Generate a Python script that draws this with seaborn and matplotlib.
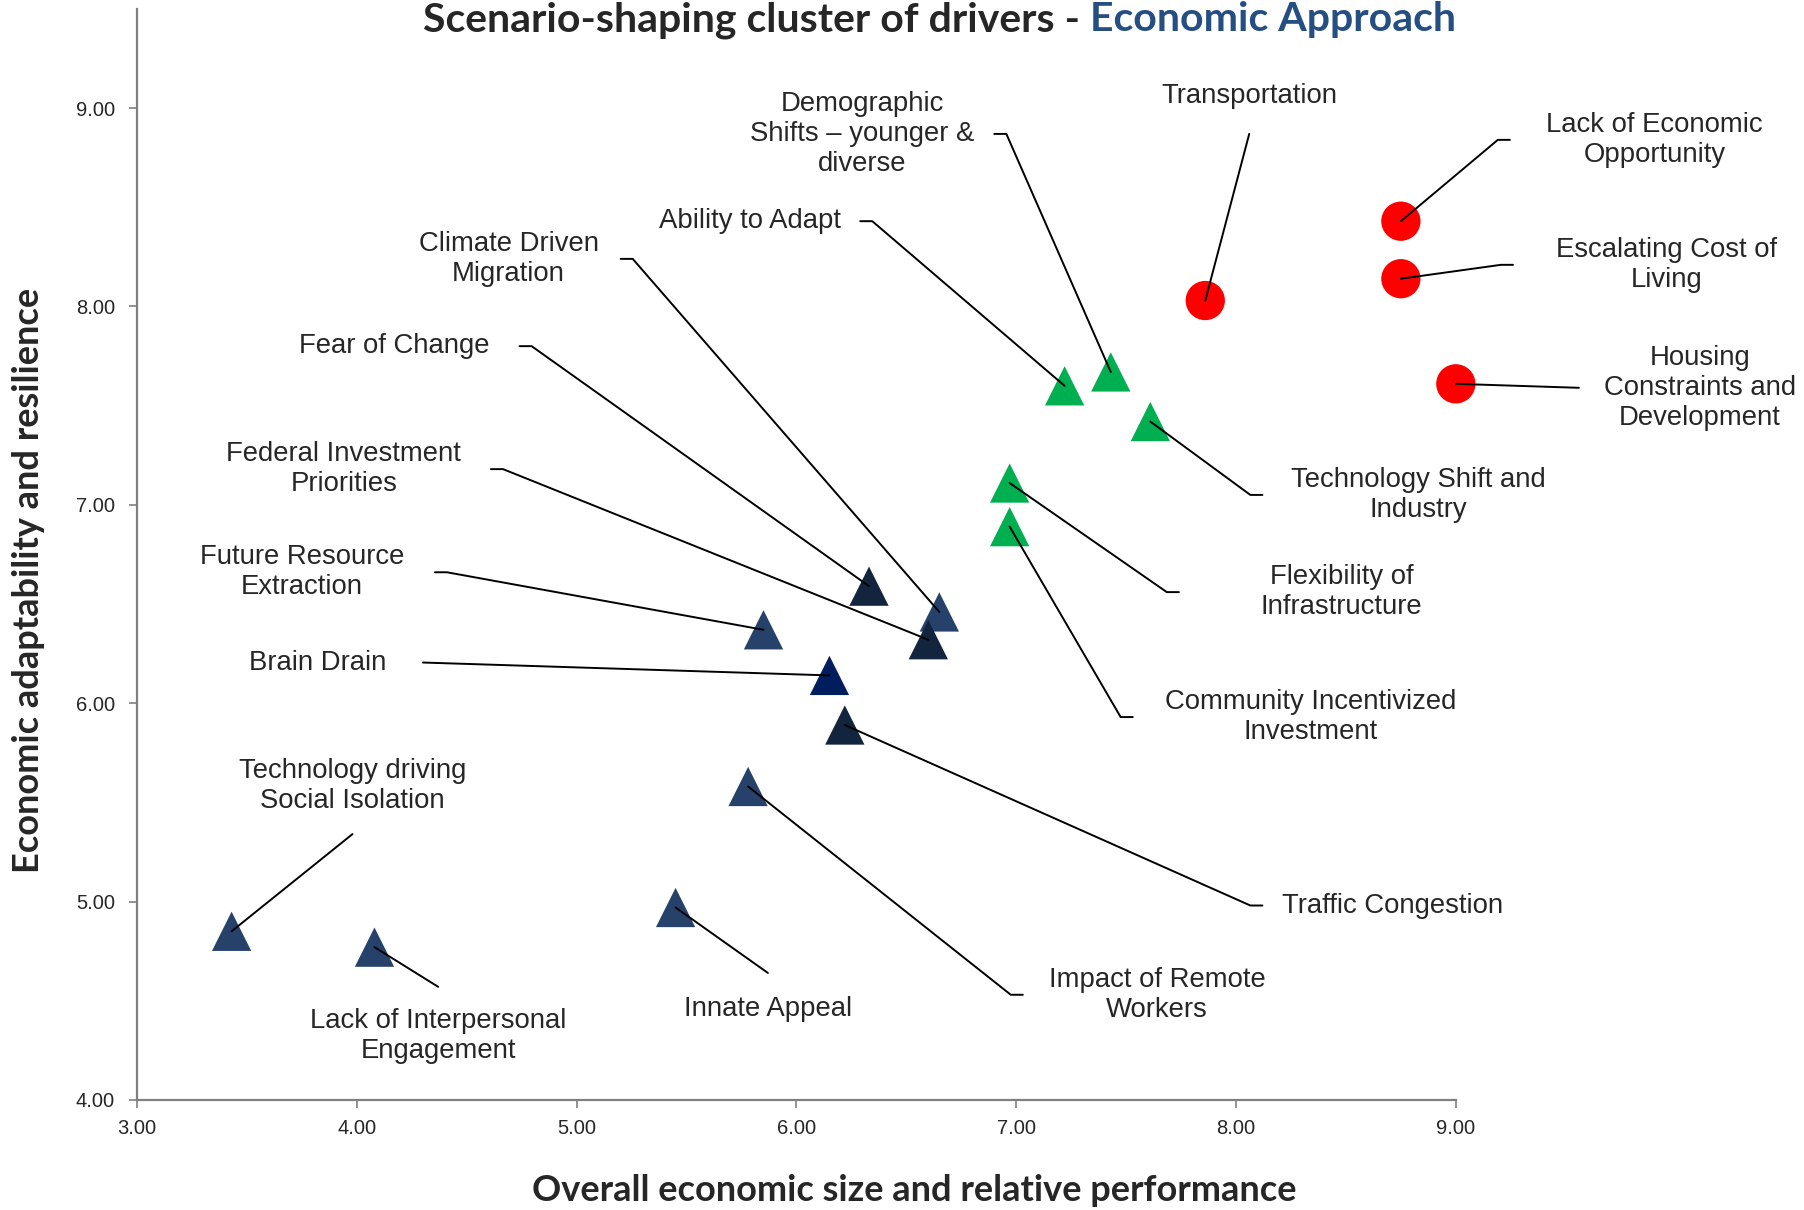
import matplotlib
matplotlib.use("Agg")
import matplotlib.pyplot as plt
import seaborn as sns
import pandas as pd

# ---- data ----
drivers = ["Lack of Economic\nOpportunity", "Escalating Cost of\nLiving", "Transportation",
           "Housing\nConstraints and\nDevelopment", "Ability to Adapt",
           "Demographic\nShifts – younger &\ndiverse", "Technology Shift and\nIndustry",
           "Flexibility of\nInfrastructure", "Community Incentivized\nInvestment",
           "Fear of Change", "Climate Driven\nMigration", "Federal Investment\nPriorities",
           "Future Resource\nExtraction", "Brain Drain", "Traffic Congestion",
           "Impact of Remote\nWorkers", "Innate Appeal", "Lack of Interpersonal\nEngagement",
           "Technology driving\nSocial Isolation"]
size_perf = [8.75, 8.75, 7.86, 9.00, 7.22, 7.43, 7.61, 6.97, 6.97,
             6.33, 6.65, 6.60, 5.85, 6.15, 6.22, 5.78, 5.45, 4.08, 3.43]
adapt_res = [8.43, 8.14, 8.03, 7.61, 7.60, 7.67, 7.42, 7.11, 6.89,
             6.59, 6.46, 6.32, 6.37, 6.14, 5.89, 5.58, 4.97, 4.77, 4.85]
group = ["red"] * 4 + ["green"] * 5 + ["dark", "navy", "dark", "navy", "brain",
                                       "dark", "navy", "navy", "navy", "navy"]
shape = ["circle"] * 4 + ["triangle"] * 15

# label placement (text centre, start of leader line, short horizontal stub or not)
label_pos = [(9.905, 8.84), (9.96, 8.21), (8.06, 9.06), (10.11, 7.59), (5.79, 8.43),
             (6.30, 8.87), (8.83, 7.05), (8.48, 6.56), (8.34, 5.93), (4.17, 7.80),
             (4.69, 8.24), (3.94, 7.18), (3.75, 6.66), (3.82, 6.205), (8.71, 4.98),
             (7.64, 4.53), (5.87, 4.46), (4.37, 4.32), (3.98, 5.585)]
line_start = [(9.246, 8.84), (9.26, 8.21), (8.06, 8.87), (9.56, 7.59), (6.29, 8.43),
              (6.90, 8.87), (8.12, 7.05), (7.74, 6.56), (7.53, 5.93), (4.74, 7.80),
              (5.20, 8.24), (4.61, 7.18), (4.355, 6.66), (4.30, 6.205), (8.12, 4.98),
              (7.03, 4.53), (5.87, 4.64), (4.37, 4.57), (3.98, 5.34)]
stub = [True, True, False, False, True, True, True, True, True, True,
        True, True, True, False, True, True, False, False, False]

df = pd.DataFrame({"driver": drivers, "x": size_perf, "y": adapt_res,
                   "group": group, "shape": shape})

palette = {"red": "#FF0000", "green": "#00B050", "navy": "#26426A",
           "dark": "#13243F", "brain": "#021D5E"}
markers = {"circle": "o", "triangle": "^"}

sns.set_style("white")
plt.rcParams["font.family"] = ["Liberation Sans", "DejaVu Sans"]

fig = plt.figure(figsize=(18.04, 12.10), dpi=100)
ax = fig.add_axes([0.076, 0.091, 0.731, 0.9016])

sns.scatterplot(data=df, x="x", y="y", hue="group", style="shape", palette=palette,
                markers=markers, s=800, linewidth=0, legend=False, ax=ax, zorder=3,
                clip_on=False)

# leader lines + labels
for i, name in enumerate(drivers):
    sx, sy = line_start[i]
    px, py = size_perf[i], adapt_res[i]
    xs, ys = [sx], [sy]
    if stub[i]:
        d = 0.055 if px > sx else -0.055
        xs.append(sx + d)
        ys.append(sy)
    xs.append(px)
    ys.append(py)
    ax.plot(xs, ys, color="black", lw=1.4, zorder=4, clip_on=False)
    ax.text(label_pos[i][0], label_pos[i][1], name, ha="center", va="center",
            fontsize=19.8, linespacing=1.2, clip_on=False)

ax.set_xlim(3, 9)
ax.set_ylim(4, 9.5)
ax.set_xticks([3, 4, 5, 6, 7, 8, 9])
ax.set_yticks([4, 5, 6, 7, 8, 9])
ax.xaxis.set_major_formatter(matplotlib.ticker.FormatStrFormatter("%.2f"))
ax.yaxis.set_major_formatter(matplotlib.ticker.FormatStrFormatter("%.2f"))
ax.tick_params(axis="both", labelsize=14.5, length=6, width=1.2, color="#808080",
               direction="out", bottom=True, left=True)
ax.tick_params(axis="x", pad=8)
ax.tick_params(axis="y", pad=10)
for side in ["top", "right"]:
    ax.spines[side].set_visible(False)
for side in ["left", "bottom"]:
    ax.spines[side].set_color("#808080")
    ax.spines[side].set_linewidth(1.6)

ax.set_xlabel("")
ax.set_ylabel("")
fig.text(0.507, 0.016, "Overall economic size and relative performance", ha="center",
         va="center", fontsize=26, fontweight="bold", family="Lato")
fig.text(0.016, 0.52, "Economic adaptability and resilience", ha="center", va="center",
         rotation=90, fontsize=26, fontweight="bold", family="Lato")

# title in two colours
t1 = fig.text(0.2345, 0.974, "Scenario-shaping cluster of drivers - ", ha="left",
              va="baseline", fontsize=29.5, fontweight="bold", family="Lato")
fig.canvas.draw()
bb = t1.get_window_extent()
x2 = fig.transFigure.inverted().transform((bb.x1, bb.y0))[0]
fig.text(x2, 0.974, "Economic Approach", ha="left", va="baseline", fontsize=29.5,
         fontweight="bold", family="Lato", color="#254E82")

fig.savefig("out.png", dpi=100)
